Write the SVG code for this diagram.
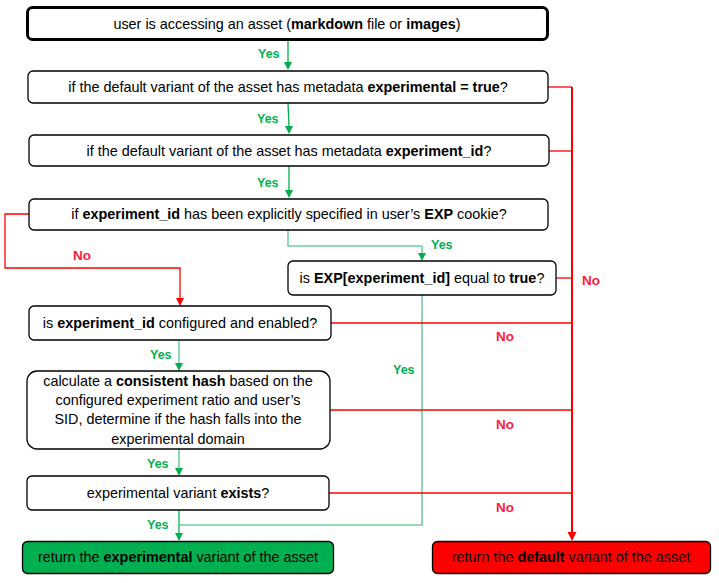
<svg xmlns="http://www.w3.org/2000/svg" width="719" height="583" viewBox="0 0 719 583">
<style>
.box{fill:#fff;stroke:#000;stroke-width:1.3}
.t{font-family:"Liberation Sans",Arial,sans-serif;font-size:14.4px;fill:#000;text-anchor:middle}
.b{font-weight:bold}
.g{fill:none;stroke:#00b050;stroke-width:1.3}
.lg{fill:none;stroke:#70d0a0;stroke-width:1.6}
.r{fill:none;stroke:#ff0000;stroke-width:1.3}
.rt{fill:none;stroke:#ff0000;stroke-width:2}
.yes{font-family:"Liberation Sans",Arial,sans-serif;font-size:12.5px;font-weight:bold;fill:#00b050}
.no{font-family:"Liberation Sans",Arial,sans-serif;font-size:13.5px;font-weight:bold;fill:#ff1a3c}
</style>

<g id="connectors">
<path class="g" d="M288,40 V62"/><path d="M284,62 H292 L288,70 Z" fill="#00b050"/>
<path class="g" d="M288,103 L289,126"/><path d="M285,126 H293 L289,134 Z" fill="#00b050"/>
<path class="g" d="M289,166 V190"/><path d="M285,190 H293 L289,198 Z" fill="#00b050"/>
<path class="lg" d="M288,230 V246 H422 V253"/><path d="M418,253 H426 L422,261 Z" fill="#00b050"/>
<path class="lg" d="M179,340 V363"/><path d="M175,363 H183 L179,371 Z" fill="#00b050"/>
<path class="lg" d="M179,449 V468"/><path d="M175,468 H183 L179,476 Z" fill="#00b050"/>
<path class="g" d="M179,510 V533"/><path d="M175,533 H183 L179,541 Z" fill="#00b050"/>
<path class="lg" d="M422,295 V525 H179"/>
<path class="r" d="M29,214 H5 V268 H180 V298"/><path d="M176,298 H184 L180,306 Z" fill="#ff0000"/>
<path class="rt" d="M572,87 V532"/><path d="M567.5,532 H576.5 L572,541 Z" fill="#ff0000"/>
<path class="r" d="M548,87 H572"/>
<path class="r" d="M549,151 H572"/>
<path class="r" d="M556,278 H572"/>
<path class="r" d="M331,323 H572"/>
<path class="r" d="M330,410 H572"/>
<path class="r" d="M329,493 H572"/>
<text class="yes" x="258" y="58">Yes</text>
<text class="yes" x="257" y="123">Yes</text>
<text class="yes" x="257" y="187">Yes</text>
<text class="yes" x="431" y="249">Yes</text>
<text class="yes" x="150" y="359">Yes</text>
<text class="yes" x="393" y="374">Yes</text>
<text class="yes" x="147" y="468">Yes</text>
<text class="yes" x="147" y="529">Yes</text>
<text class="no" x="73" y="260">No</text>
<text class="no" x="582" y="285">No</text>
<text class="no" x="496" y="341">No</text>
<text class="no" x="496" y="429">No</text>
<text class="no" x="496" y="512">No</text>
</g>

<g id="n1">
<rect x="27.5" y="7.5" width="520" height="32" rx="5" fill="#fff" stroke="#000" stroke-width="3"/>
<text class="t" x="287" y="29">user is accessing an asset (<tspan class="b">markdown</tspan> file or <tspan class="b">images</tspan>)</text>
</g>
<g id="n2">
<rect class="box" x="28" y="71" width="520" height="32" rx="5"/>
<text class="t" x="288" y="92">if the default variant of the asset has metadata <tspan class="b">experimental = true</tspan>?</text>
</g>
<g id="n3">
<rect class="box" x="29" y="135" width="520" height="31" rx="5"/>
<text class="t" x="289" y="156">if the default variant of the asset has metadata <tspan class="b">experiment_id</tspan>?</text>
</g>
<g id="n4">
<rect class="box" x="29" y="199" width="519" height="31" rx="5"/>
<text class="t" x="289" y="219">if <tspan class="b">experiment_id</tspan> has been explicitly specified in user’s <tspan class="b">EXP</tspan> cookie?</text>
</g>
<g id="n5">
<rect class="box" x="288" y="261" width="268" height="34" rx="5"/>
<text class="t" x="422" y="283">is <tspan class="b">EXP[experiment_id]</tspan> equal to <tspan class="b">true</tspan>?</text>
</g>
<g id="n6">
<rect class="box" x="29" y="306" width="302" height="34" rx="5"/>
<text class="t" x="180" y="328">is <tspan class="b">experiment_id</tspan> configured and enabled?</text>
</g>
<g id="n7">
<rect class="box" x="27" y="371" width="303" height="78" rx="10"/>
<text class="t" x="178" y="386">calculate a <tspan class="b">consistent hash</tspan> based on the</text>
<text class="t" x="178" y="405">configured experiment ratio and user’s</text>
<text class="t" x="178" y="424">SID, determine if the hash falls into the</text>
<text class="t" x="178" y="444">experimental domain</text>
</g>
<g id="n8">
<rect class="box" x="27" y="476" width="302" height="34" rx="5"/>
<text class="t" x="178" y="498">experimental variant <tspan class="b">exists</tspan>?</text>
</g>
<g id="n9">
<rect x="22.5" y="541.5" width="311" height="32" rx="5" fill="#00b050" stroke="#000" stroke-width="1.3"/>
<text class="t" x="178" y="562">return the <tspan class="b">experimental</tspan> variant of the asset</text>
</g>
<g id="n10">
<rect x="432.5" y="541.5" width="278" height="32" rx="5" fill="#ff0000" stroke="#000" stroke-width="1.3"/>
<text class="t" x="571" y="562">return the <tspan class="b">default</tspan> variant of the asset</text>
</g>
</svg>
